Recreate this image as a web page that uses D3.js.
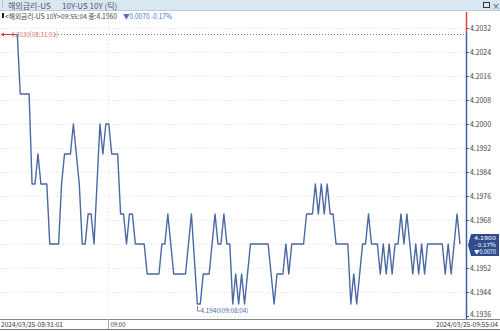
<!DOCTYPE html>
<html>
<head>
<meta charset="utf-8">
<script src="https://cdn.jsdelivr.net/npm/d3@7"></script>
<style>
  body { margin: 0; background: #fff; }
  svg text { font-family: "Noto Sans CJK KR", "Noto Sans", sans-serif; }
</style>
</head>
<body>
<div id="chart"></div>
<script>
// tick chart data (one value per tick, equally spaced)
const ticks = [
  4.2030, 4.2010, 4.2010, 4.2010, 4.2010, 4.1980, 4.1980, 4.1990, 4.1980, 4.1980,
  4.1980, 4.1960, 4.1960, 4.1960, 4.1960, 4.1980, 4.1990, 4.1990, 4.1990, 4.2000,
  4.1990, 4.1980, 4.1960, 4.1960, 4.1970, 4.1970, 4.1960, 4.1980, 4.2000, 4.1990,
  4.2000, 4.2000, 4.1990, 4.1990, 4.1990, 4.1970, 4.1970, 4.1960, 4.1970, 4.1970,
  4.1960, 4.1960, 4.1960, 4.1960, 4.1950, 4.1950, 4.1950, 4.1950, 4.1950, 4.1960,
  4.1960, 4.1970, 4.1960, 4.1950, 4.1950, 4.1950, 4.1950, 4.1950, 4.1960, 4.1970,
  4.1955, 4.1940, 4.1940, 4.1950, 4.1950, 4.1950, 4.1960, 4.1970, 4.1960, 4.1960,
  4.1970, 4.1960, 4.1960, 4.1940, 4.1950, 4.1940, 4.1950, 4.1940, 4.1950, 4.1960,
  4.1960, 4.1960, 4.1960, 4.1960, 4.1960, 4.1960, 4.1950, 4.1940, 4.1950, 4.1950,
  4.1950, 4.1960, 4.1950, 4.1960, 4.1960, 4.1960, 4.1960, 4.1960, 4.1970, 4.1970,
  4.1970, 4.1980, 4.1970, 4.1980, 4.1970, 4.1980, 4.1970, 4.1970, 4.1960, 4.1960,
  4.1960, 4.1960, 4.1960, 4.1940, 4.1950, 4.1940, 4.1950, 4.1960, 4.1960, 4.1970,
  4.1960, 4.1960, 4.1960, 4.1950, 4.1960, 4.1950, 4.1960, 4.1950, 4.1960, 4.1960,
  4.1970, 4.1960, 4.1970, 4.1960, 4.1950, 4.1960, 4.1950, 4.1960, 4.1950, 4.1960,
  4.1960, 4.1960, 4.1960, 4.1960, 4.1960, 4.1950, 4.1960, 4.1950, 4.1960, 4.1970,
  4.1960
];
const yTicks = [4.2032, 4.2024, 4.2016, 4.2008, 4.2000, 4.1992, 4.1984, 4.1976,
                4.1968, 4.1960, 4.1952, 4.1944, 4.1936];
const timeTicks = [{ idx: 30.7, label: "09:00" }];
const startLabel = "2024/03/25-08:31:01";
const endLabel = "2024/03/25-09:55:04";
const maxLabel = "4.2030(08:31:01)";
const minLabel = "4.1940(09:08:04)";
const lastValue = "4.1960", lastChange = "0.0070", lastPct = "- 0.17%";

const width = 500, height = 331;
const plot = { left: 0, right: 467, top: 12, bottom: 319 };

const svg = d3.select("#chart").append("svg")
  .attr("width", width).attr("height", height);

// header bar
svg.append("rect").attr("x", 0).attr("y", 0).attr("width", width).attr("height", 10)
  .attr("fill", "#d9e7f3");
svg.append("line").attr("x1", 0).attr("x2", width).attr("y1", 10.5).attr("y2", 10.5)
  .attr("stroke", "#b8cde0");
svg.append("line").attr("x1", 2.5).attr("x2", 2.5).attr("y1", 1).attr("y2", 9)
  .attr("stroke", "#8aa").attr("stroke-dasharray", "1,1");
svg.append("text").attr("x", 8).attr("y", 8.5).attr("font-size", 8).attr("fill", "#556")
  .text("해외금리-US");
svg.append("text").attr("x", 62).attr("y", 8.5).attr("font-size", 8).attr("fill", "#556")
  .text("10Y-US 10Y (틱)");
svg.append("rect").attr("x", 483.5).attr("y", 2.5).attr("width", 6).attr("height", 5)
  .attr("fill", "none").attr("stroke", "#334");
svg.append("text").attr("x", 492).attr("y", 8.5).attr("font-size", 8).attr("fill", "#334")
  .text("×");

// info line
svg.append("rect").attr("x", 2).attr("y", 13).attr("width", 2).attr("height", 5).attr("fill", "#222");
svg.append("text").attr("x", 5).attr("y", 18.5).attr("font-size", 7).attr("fill", "#444")
  .attr("textLength", 112).attr("lengthAdjust", "spacingAndGlyphs")
  .text("<해외금리-US 10Y>09:55:04 종:" + lastValue);
svg.append("text").attr("x", 123).attr("y", 18.5).attr("font-size", 7).attr("fill", "#4a72c4")
  .attr("textLength", 49).attr("lengthAdjust", "spacingAndGlyphs")
  .text("▼" + lastChange + " -0.17%");

// scales
const x = d3.scaleLinear().domain([0, ticks.length - 1]).range([17.3, 460]);
const y = d3.scaleLinear().domain([4.1936, 4.2032]).range([316, 28]);

// grid
svg.append("g").selectAll("line").data(yTicks).join("line")
  .attr("x1", plot.left).attr("x2", plot.right - 1)
  .attr("y1", d => Math.round(y(d)) + 0.5).attr("y2", d => Math.round(y(d)) + 0.5)
  .attr("stroke", "#dcdcdc").attr("stroke-dasharray", "1,2.5");
svg.append("g").selectAll("line").data(timeTicks).join("line")
  .attr("x1", d => Math.round(x(d.idx)) + 0.5).attr("x2", d => Math.round(x(d.idx)) + 0.5)
  .attr("y1", plot.top).attr("y2", plot.bottom)
  .attr("stroke", "#dcdcdc").attr("stroke-dasharray", "1,2.5");

// max reference line
const yMax = Math.round(y(d3.max(ticks))) + 0.5;
svg.append("line").attr("x1", 55).attr("x2", plot.right - 1).attr("y1", yMax).attr("y2", yMax)
  .attr("stroke", "#777").attr("stroke-dasharray", "1,2");
svg.append("line").attr("x1", 1).attr("x2", x(0)).attr("y1", yMax).attr("y2", yMax)
  .attr("stroke", "#d43a2f").attr("stroke-width", 1);
svg.append("path").attr("d", `M1,${yMax} l3,-2 v4 z`).attr("fill", "#d43a2f");
svg.append("text").attr("x", 11).attr("y", yMax + 2.5).attr("font-size", 7).attr("fill", "#d46a60")
  .attr("textLength", 47).attr("lengthAdjust", "spacingAndGlyphs").text(maxLabel);

// price line
const line = d3.line().x((d, i) => x(i)).y(d => y(d));
svg.append("path").datum(ticks)
  .attr("fill", "none").attr("stroke", "#4a68a4").attr("stroke-width", 1.4)
  .attr("stroke-linejoin", "round").attr("d", line);

// min marker
const minIdx = ticks.indexOf(d3.min(ticks));
const mx = Math.round(x(minIdx)) + 0.5, my = y(d3.min(ticks));
svg.append("path").attr("d", `M${mx},${my + 2} V${my + 7} h3`)
  .attr("fill", "none").attr("stroke", "#4a68a4").attr("stroke-width", 0.8);
svg.append("text").attr("x", mx + 3).attr("y", my + 8.5).attr("font-size", 6.5).attr("fill", "#4a68a4")
  .attr("textLength", 48).attr("lengthAdjust", "spacingAndGlyphs").text(minLabel);

// right axis (the current-value badge sits over its own tick label)
svg.append("line").attr("x1", plot.right - 0.5).attr("x2", plot.right - 0.5)
  .attr("y1", 33).attr("y2", plot.bottom).attr("stroke", "#3c5fa6").attr("stroke-width", 1.5);
svg.append("line").attr("x1", plot.right - 0.5).attr("x2", plot.right - 0.5)
  .attr("y1", 12).attr("y2", 33).attr("stroke", "#e0443a").attr("stroke-width", 1.5);
const axisG = svg.append("g").attr("transform", `translate(${plot.right},0)`)
  .call(d3.axisRight(y).tickValues(yTicks.filter(d => d.toFixed(4) !== lastValue))
    .tickSize(2).tickFormat(d3.format(".4f")));
axisG.select(".domain").remove();
axisG.selectAll(".tick line").attr("stroke", "#3c5fa6");
axisG.selectAll(".tick text").attr("x", 3).attr("font-size", 7.5).attr("fill", "#444")
  .attr("font-family", "Noto Sans, sans-serif")
  .attr("dy", (d, i, n) => i === n.length - 1 ? "0.05em" : "0.32em")
  .attr("textLength", 21).attr("lengthAdjust", "spacingAndGlyphs");

// current value badge
const yl = y(+lastValue) + 1;
svg.append("path")
  .attr("d", `M${plot.right + 1},${yl} L${plot.right + 4},${yl - 11} H499 V${yl + 11} H${plot.right + 4} Z`)
  .attr("fill", "#2f4d8e");
const badge = [lastValue, lastPct, "▼" + lastChange];
svg.append("g").selectAll("text").data(badge).join("text")
  .attr("x", plot.right + 7).attr("y", (d, i) => yl - 5 + i * 7)
  .attr("font-size", 5.6).attr("fill", "#fff")
  .attr("textLength", 22).attr("lengthAdjust", "spacingAndGlyphs").text(d => d);

// bottom time axis
svg.append("line").attr("x1", 0).attr("x2", width).attr("y1", plot.bottom + 0.5).attr("y2", plot.bottom + 0.5)
  .attr("stroke", "#888");
svg.append("line").attr("x1", 0).attr("x2", width).attr("y1", 329.5).attr("y2", 329.5)
  .attr("stroke", "#777");
svg.append("text").attr("x", 1).attr("y", 327).attr("font-size", 6.2).attr("fill", "#333")
  .attr("textLength", 62).attr("lengthAdjust", "spacingAndGlyphs").text(startLabel);
svg.append("text").attr("x", 436).attr("y", 327).attr("font-size", 6.2).attr("fill", "#333")
  .attr("textLength", 62).attr("lengthAdjust", "spacingAndGlyphs")
  .text(endLabel);
const tg = svg.append("g").selectAll("g").data(timeTicks).join("g")
  .attr("transform", d => `translate(${Math.round(x(d.idx)) + 0.5},0)`);
tg.append("line").attr("y1", plot.bottom).attr("y2", 329).attr("stroke", "#aaa");
tg.append("text").attr("x", 2).attr("y", 327).attr("font-size", 6.5).attr("fill", "#333")
  .attr("textLength", 15).attr("lengthAdjust", "spacingAndGlyphs").text(d => d.label);
</script>
</body>
</html>
